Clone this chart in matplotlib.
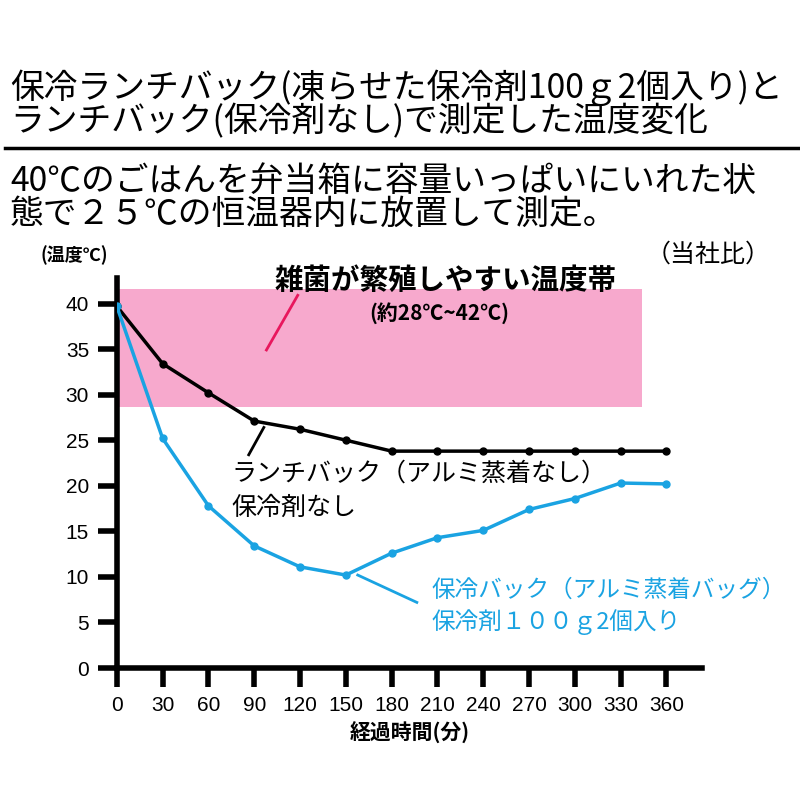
import matplotlib
matplotlib.use("Agg")
import matplotlib.pyplot as plt

plt.rcParams['font.family'] = ['Noto Sans CJK JP', 'DejaVu Sans']

# data
minutes = [0, 30, 60, 90, 120, 150, 180, 210, 240, 270, 300, 330, 360]
no_cooler = [39.7, 33.4, 30.2, 27.1, 26.2, 25.0, 23.8, 23.8, 23.8, 23.8, 23.8, 23.8, 23.8]
cooler_bag = [39.7, 25.2, 17.8, 13.4, 11.1, 10.2, 12.6, 14.3, 15.1, 17.4, 18.6, 20.3, 20.2]
band_low, band_high = 28.6, 41.6
yticks = [0, 5, 10, 15, 20, 25, 30, 35, 40]

title1 = "保冷ランチバック(凍らせた保冷剤100ｇ2個入り)と"
title2 = "ランチバック(保冷剤なし)で測定した温度変化"
note1 = "40℃のごはんを弁当箱に容量いっぱいにいれた状"
note2 = "態で２５℃の恒温器内に放置して測定。"

blue = '#1aa3e2'
pink = '#f7a9cd'

fig = plt.figure(figsize=(8, 8), dpi=100)
ax = fig.add_axes([0.146, 0.165, 0.731, 0.4875])

ax.axhspan(band_low, band_high, xmin=0, xmax=344 / 383, color=pink, zorder=0, lw=0)
ax.plot(minutes, no_cooler, color='black', lw=2.5, marker='o', ms=5, zorder=3)
ax.plot(minutes, cooler_bag, color=blue, lw=2.5, marker='o', ms=5, zorder=3)

ax.set_xlim(0, 383)
ax.set_ylim(0, 42.8)
ax.set_xticks(minutes)
ax.set_yticks(yticks)
for lab in ax.get_xticklabels() + ax.get_yticklabels():
    lab.set_fontfamily('Liberation Sans')
    lab.set_fontsize(15)
ax.tick_params(axis='both', width=4, length=14, direction='out', color='black')
ax.tick_params(axis='x', pad=6)
ax.tick_params(axis='y', pad=6)
for s in ['top', 'right']:
    ax.spines[s].set_visible(False)
for s in ['left', 'bottom']:
    ax.spines[s].set_linewidth(4)

# annotations
ax.plot([98, 118.5], [34.9, 40.9], color='#e8175d', lw=2)
ax.text(215, 42.5, "雑菌が繁殖しやすい温度帯", fontsize=20.5, fontweight='bold',
        ha='center', va='center')
ax.text(211, 39.0, "(約28℃~42℃)", fontsize=15, fontweight='bold', ha='center', va='center')

ax.plot([86.4, 96.3], [23.4, 26.4], color='black', lw=2)
ax.text(75, 21.3, "ランチバック（アルミ蒸着なし）", fontsize=18, ha='left', va='center')
ax.text(75, 17.6, "保冷剤なし", fontsize=18, ha='left', va='center')

ax.plot([157.8, 196.5], [10.2, 7.2], color=blue, lw=2)
ax.text(206, 8.5, "保冷バック（アルミ蒸着バッグ）", fontsize=17, ha='left', va='center',
        color=blue)
ax.text(206, 5.0, "保冷剤１００ｇ2個入り", fontsize=17, ha='left', va='center', color=blue)

# header texts
fig.text(10 / 800, 1 - 88 / 800, title1, fontsize=24.3, va='center', ha='left')
fig.text(10 / 800, 1 - 122 / 800, title2, fontsize=24.3, va='center', ha='left')
fig.add_artist(plt.Line2D([5 / 800, 798 / 800], [1 - 148 / 800] * 2, color='black', lw=2.5))
fig.text(10 / 800, 1 - 181 / 800, note1, fontsize=24.3, va='center', ha='left')
fig.text(10 / 800, 1 - 214 / 800, note2, fontsize=24.3, va='center', ha='left')

fig.text(40 / 800, 1 - 255 / 800, "(温度℃)", fontsize=13, fontweight='bold', va='center', ha='left')
fig.text(646 / 800, 1 - 255 / 800, "（当社比）", fontsize=18, va='center', ha='left')
fig.text(410 / 800, 1 - 733 / 800, "経過時間(分)", fontsize=15, fontweight='bold',
         va='center', ha='center')

fig.savefig("out.png", dpi=100)
